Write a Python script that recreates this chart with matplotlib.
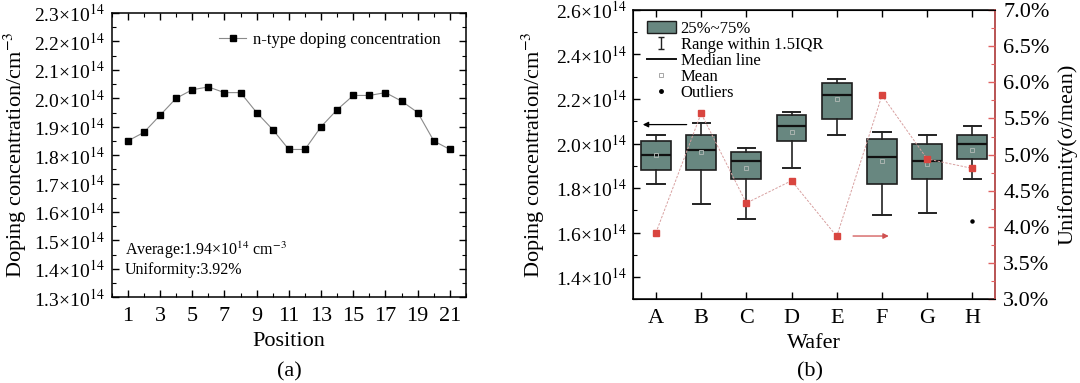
import matplotlib
matplotlib.use("Agg")
import matplotlib.pyplot as plt
import numpy as np
from matplotlib.lines import Line2D
from matplotlib.patches import Patch
from matplotlib.path import Path
from matplotlib.ticker import FuncFormatter, MultipleLocator

plt.rcParams['font.family'] = ['Liberation Serif', 'DejaVu Serif']
plt.rcParams['mathtext.fontset'] = 'stix'

# ---- panel (a): doping along one wafer (units of 1e14 cm^-3) ----
positions = np.arange(1, 22)
doping = [1.85, 1.88, 1.94, 2.00, 2.03, 2.04, 2.02, 2.02, 1.95, 1.89, 1.82,
          1.82, 1.90, 1.96, 2.01, 2.01, 2.02, 1.99, 1.95, 1.85, 1.82]

# ---- panel (b): box statistics per wafer (units of 1e14 cm^-3) ----
wafers = ['A', 'B', 'C', 'D', 'E', 'F', 'G', 'H']
whisker_lo = [1.82, 1.73, 1.66, 1.89, 2.04, 1.68, 1.69, 1.84]
q1 = [1.88, 1.88, 1.84, 2.01, 2.11, 1.82, 1.84, 1.93]
median = [1.95, 1.97, 1.92, 2.08, 2.22, 1.94, 1.92, 2.00]
q3 = [2.01, 2.04, 1.96, 2.13, 2.27, 2.02, 2.00, 2.04]
whisker_hi = [2.04, 2.09, 1.98, 2.14, 2.29, 2.05, 2.04, 2.08]
means = [1.95, 1.96, 1.89, 2.05, 2.20, 1.92, 1.91, 1.97]
outliers = [[], [], [], [], [], [], [], [1.65]]
uniformity = [3.92, 5.57, 4.33, 4.64, 3.87, 5.82, 4.94, 4.81]  # percent

box_color = '#688780'
red = '#d9453f'


def sci_fmt(v, pos):
    return f"{v:.1f}×10$^{{14}}$"


fig = plt.figure(figsize=(10.8, 3.83), dpi=100)

# ======================= panel (a) =======================
ax = fig.add_axes([0.1034, 0.2238, 0.3281, 0.7422])
ax.plot(positions, doping, color='#8a8a8a', lw=0.8, marker='s', ms=4.3,
        mfc='black', mec='black', label='n-type doping concentration')
ax.set_xlim(0, 22)
ax.set_ylim(1.3, 2.3)
ax.xaxis.set_major_locator(MultipleLocator(2, offset=1))
ax.xaxis.set_minor_locator(MultipleLocator(1))
ax.yaxis.set_major_locator(MultipleLocator(0.1))
ax.yaxis.set_minor_locator(MultipleLocator(0.05))
ax.yaxis.set_major_formatter(FuncFormatter(sci_fmt))
ax.tick_params(which='both', direction='in', top=True, right=True, labelsize=16)
ax.tick_params(axis='y', labelsize=14, pad=5)
ax.tick_params(which='major', length=5, width=1)
ax.tick_params(which='minor', length=3, width=0.8)
ax.tick_params(axis='x', pad=7)
for s in ax.spines.values():
    s.set_linewidth(1.1)
ax.set_xlabel('Position', fontsize=16, labelpad=4)
ax.set_ylabel('Doping concentration/cm$^{-3}$', fontsize=16, labelpad=4)
ax.legend(loc='upper right', frameon=False, fontsize=12, handlelength=1.6,
          handletextpad=0.4, bbox_to_anchor=(0.97, 0.985))
ax.text(0.037, 0.166, 'Average:1.94×10$^{14}$ cm$^{-3}$', transform=ax.transAxes,
        fontsize=11.5, va='center')
ax.text(0.037, 0.096, 'Uniformity:3.92%', transform=ax.transAxes,
        fontsize=11.5, va='center')
fig.text(0.268, 0.028, '(a)', fontsize=16, ha='center', va='center')

# ======================= panel (b) =======================
axb = fig.add_axes([0.5864, 0.2185, 0.3349, 0.7555])
stats = []
for i in range(len(wafers)):
    stats.append(dict(med=median[i], q1=q1[i], q3=q3[i], whislo=whisker_lo[i],
                      whishi=whisker_hi[i], mean=means[i], fliers=outliers[i]))
xpos = np.arange(len(wafers))
axb.bxp(stats, positions=xpos, widths=0.66, capwidths=0.38, patch_artist=True,
        showmeans=True,
        boxprops=dict(facecolor=box_color, edgecolor='#1e1e1e', lw=1.2),
        medianprops=dict(color='#111111', lw=1.6),
        whiskerprops=dict(color='#222222', lw=1.2),
        capprops=dict(color='#222222', lw=1.4),
        meanprops=dict(marker='s', ms=3, mfc='none', mec='#aab4b0', mew=0.7),
        flierprops=dict(marker='o', ms=2.2, mfc='black', mec='black'))
axb.set_xlim(-0.5, 7.5)
axb.set_ylim(1.3, 2.6)
axb.set_xticks(xpos)
axb.set_xticklabels(wafers)
axb.yaxis.set_major_locator(MultipleLocator(0.2))
axb.yaxis.set_minor_locator(MultipleLocator(0.1))
axb.yaxis.set_major_formatter(FuncFormatter(sci_fmt))
axb.tick_params(which='both', direction='in', top=True, right=False, labelsize=16)
axb.tick_params(axis='y', labelsize=14, pad=5)
axb.tick_params(which='major', length=5, width=1)
axb.tick_params(which='minor', length=3, width=0.8)
axb.tick_params(axis='x', pad=7)
for s in axb.spines.values():
    s.set_linewidth(1.1)
axb.set_xlabel('Wafer', fontsize=16, labelpad=4)
axb.set_ylabel('Doping concentration/cm$^{-3}$', fontsize=16, labelpad=6)
axb.annotate('', xy=(-0.29, 2.085), xytext=(0.68, 2.085),
             arrowprops=dict(arrowstyle='-|>', color='black', lw=0.9,
                             mutation_scale=8, shrinkA=0, shrinkB=0))

whisker_mark = Path([(-0.5, 1), (0.5, 1), (0, 1), (0, -1), (-0.5, -1), (0.5, -1)],
                    [Path.MOVETO, Path.LINETO, Path.MOVETO, Path.LINETO,
                     Path.MOVETO, Path.LINETO])
handles = [
    Patch(facecolor=box_color, edgecolor='#1e1e1e', lw=1.0, label='25%~75%'),
    Line2D([], [], ls='none', marker=whisker_mark, ms=9, color='#222222',
           mew=1.0, label='Range within 1.5IQR'),
    Line2D([], [], color='#111111', lw=1.4, label='Median line'),
    Line2D([], [], ls='none', marker='s', ms=2.5, mfc='none', mec='#999999',
           mew=0.6, label='Mean'),
    Line2D([], [], ls='none', marker='o', ms=2.5, color='black', label='Outliers'),
]
axb.legend(handles=handles, loc='upper left', bbox_to_anchor=(0.02, 0.985),
           frameon=False, fontsize=12, handlelength=1.7, handletextpad=0.3,
           labelspacing=0.0, borderaxespad=0)

ax2 = axb.twinx()
ax2.plot(xpos, uniformity, color='#d8a0a0', lw=0.7, ls=(0, (2.5, 1.5)),
         marker='s', ms=5, mfc=red, mec=red)
ax2.set_ylim(3.0, 7.0)
ax2.yaxis.set_major_locator(MultipleLocator(0.5))
ax2.yaxis.set_minor_locator(MultipleLocator(0.25))
ax2.yaxis.set_major_formatter(FuncFormatter(lambda v, p: f"{v:.1f}%"))
ax2.tick_params(axis='y', which='both', direction='in', color='#e06060',
                labelcolor='black', labelsize=16, pad=6)
ax2.tick_params(axis='y', which='major', length=5, width=1)
ax2.tick_params(axis='y', which='minor', length=3, width=0.8)
ax2.spines['right'].set_color('#e06060')
ax2.spines['right'].set_linewidth(1.1)
ax2.set_ylabel('Uniformity(σ/mean)', fontsize=16, labelpad=6)
ax2.annotate('', xy=(5.15, 3.875), xytext=(4.36, 3.875),
             arrowprops=dict(arrowstyle='-|>', color='#d05050', lw=0.9,
                             mutation_scale=8, shrinkA=0, shrinkB=0))
fig.text(0.75, 0.028, '(b)', fontsize=16, ha='center', va='center')

fig.savefig('out.png', dpi=100)
